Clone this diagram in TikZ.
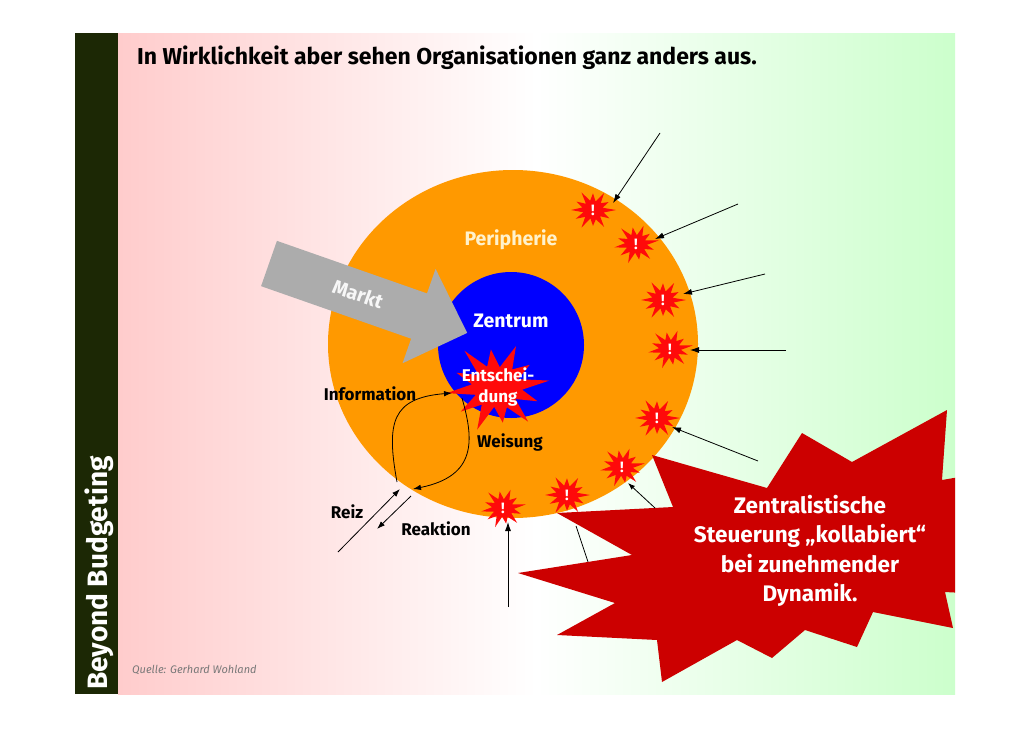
\documentclass[tikz,border=0pt]{standalone}
\usepackage{fontspec}
\setmainfont{Fira Sans}
\usetikzlibrary{arrows.meta}
\definecolor{panelpink}{RGB}{255,204,204}
\definecolor{panelgreen}{RGB}{204,255,204}
\definecolor{darkbar}{RGB}{28,40,5}
\definecolor{perioranges}{RGB}{255,153,0}
\definecolor{zentblue}{RGB}{0,0,255}
\definecolor{burstred}{RGB}{255,10,10}
\definecolor{bigred}{RGB}{204,0,0}
\definecolor{arrowgray}{RGB}{172,172,172}
\definecolor{cream}{RGB}{255,242,204}
\definecolor{quellegray}{RGB}{120,120,120}
\begin{document}
\begin{tikzpicture}[x=1pt,y=-1pt,
  burst/.pic={
    \fill[burstred] (0:23) -- (15:11) -- (30:19) -- (45:10) -- (60:22) -- (75:11)
      -- (90:18) -- (105:10) -- (120:23) -- (135:11) -- (150:20) -- (165:10)
      -- (180:22) -- (195:11) -- (210:19) -- (225:10) -- (240:23) -- (255:11)
      -- (270:19) -- (285:10) -- (300:22) -- (315:11) -- (330:18) -- (345:10) -- cycle;
  },
  bang/.style={text=white, font=\bfseries\fontsize{15}{16}\selectfont, inner sep=0pt},
  lbl/.style={text=black, font=\bfseries\fontsize{17}{18}\selectfont, inner sep=0pt},
  inlbl/.style={font=\bfseries\fontsize{19.5}{20}\selectfont, inner sep=0pt},
  conn/.style={draw=black, line width=0.8pt, -{Latex[length=9pt,width=6pt]}},
  connplain/.style={draw=black, line width=0.8pt},
]
\useasboundingbox (0,0) rectangle (1030,728);
\fill[white] (0,0) rectangle (1030,728);
% panel
\shade[left color=panelpink, right color=panelgreen, middle color=white] (118,33) rectangle (955,694);
\fill[darkbar] (75,33) rectangle (118,694);
% circles
\fill[perioranges] (513,344) ellipse [x radius=185pt, y radius=174pt];
\fill[zentblue] (511,345) circle [radius=73pt];
% Markt arrow
\begin{scope}[shift={(269,263.5)}, rotate=-19.3]
  \fill[arrowgray] (0,24) -- (159,24) -- (159,50) -- (210,0) -- (159,-50) -- (159,-24) -- (0,-24) -- cycle;
\end{scope}
\node[rotate=-19.3, text=white!94!gray, inlbl] (markt) at (358,294) {Markt};
% big star
\begin{scope}
  \clip (118,33) rectangle (955,694);
  \fill[bigred] (557,513) -- (673,507) -- (652,455) -- (767,488) -- (802,433) -- (852,462)
    -- (947,410) -- (942,480) -- (1000,470) -- (1000,595) -- (945,592) -- (953,628)
    -- (873,612) -- (857,647) -- (805,630) -- (772,658) -- (737,640) -- (662,682)
    -- (657,640) -- (557,635) -- (615,603) -- (518,573) -- (632,555) -- cycle;
\end{scope}
% Entscheidung burst
\pic[xscale=2.3, yscale=2.0, rotate=8] at (497,387) {burst};
% small bursts
\pic[yscale=0.88] at (593,210) {burst};
\pic[yscale=0.88, rotate=10] at (636,244) {burst};
\pic[yscale=0.88] at (663,300) {burst};
\pic[yscale=0.88, rotate=10] at (670,349) {burst};
\pic[yscale=0.88] at (657,418) {burst};
\pic[yscale=0.88, rotate=10] at (622,467) {burst};
\pic[yscale=0.88] at (567,495) {burst};
\pic[yscale=0.88, rotate=10] at (503,508) {burst};
\node[bang] (b1) at (593,210) {!};
\node[bang] (b2) at (636,244) {!};
\node[bang] (b3) at (663,300) {!};
\node[bang] (b4) at (670,349) {!};
\node[bang] (b5) at (657,418) {!};
\node[bang] (b6) at (622,467) {!};
\node[bang] (b7) at (567,495) {!};
\node[bang] (b8) at (503,508) {!};
% arrow end points
\coordinate (s1) at (660,133); \coordinate (e1) at (613,203);
\coordinate (s2) at (738,204); \coordinate (e2) at (655,239);
\coordinate (s3) at (765,274); \coordinate (e3) at (683,294);
\coordinate (s4) at (786,350); \coordinate (e4) at (690,350);
\coordinate (s5) at (758,461); \coordinate (e5) at (672,427);
\coordinate (s6) at (655,508); \coordinate (e6) at (628,483);
\coordinate (s7) at (588,562); \coordinate (e7) at (576,526);
\coordinate (s8) at (508,607); \coordinate (e8) at (508,522);
\draw[conn] (s1) -- (e1);
\draw[conn] (s2) -- (e2);
\draw[conn] (s3) -- (e3);
\draw[conn] (s4) -- (e4);
\draw[conn] (s5) -- (e5);
\draw[conn, -{Latex[length=7pt,width=5pt]}] (s6) -- (e6);
\draw[connplain] (s7) -- (e7);
\draw[conn] (s8) -- (e8);
% Reiz / Reaktion / Information / Weisung
\coordinate (reizS) at (338,552); \coordinate (reizE) at (400,489);
\coordinate (reakS) at (411,496); \coordinate (reakE) at (377,529);
\coordinate (infS) at (397,482); \coordinate (infE) at (452,393);
\coordinate (weiS) at (462,398); \coordinate (weiE) at (413,489);
\draw[conn, -{Latex[length=8pt,width=5.5pt]}] (reizS) -- (reizE);
\draw[conn, -{Latex[length=8pt,width=5.5pt]}] (reakS) -- (reakE);
\draw[conn, -{Latex[length=8pt,width=5.5pt]}] (infS) .. controls (386,422) and (392,398) .. (infE);
\draw[conn, -{Latex[length=8pt,width=5.5pt]}] (weiS) .. controls (474,440) and (477,476) .. (weiE);
% labels
\node[inlbl, text=cream] (peri) at (511,240) {Peripherie};
\node[inlbl, text=white] (zent) at (511,321) {Zentrum};
\node[align=center, text=white, font=\bfseries\fontsize{17}{21}\selectfont, inner sep=0pt] (ent) at (498,387) {Entschei-\\dung};
\node[lbl] (info) at (370,394) {Information};
\node[lbl] (weis) at (510,442) {Weisung};
\node[lbl] (reiz) at (347,512) {Reiz};
\node[lbl] (reak) at (436,529) {Reaktion};
\node[align=center, text=white, font=\bfseries\fontsize{22.5}{29.5}\selectfont, inner sep=0pt] (steu) at (810,551) {Zentralistische\\Steuerung „kollabiert“\\bei zunehmender\\Dynamik.};
% title and side text
\node[anchor=west, inner sep=0pt, font=\bfseries\fontsize{23}{24}\selectfont] (title) at (137,58) {In Wirklichkeit aber sehen Organisationen ganz anders aus.};
\node[rotate=90, anchor=west, inner sep=0pt, text=white, font=\bfseries\fontsize{28}{30}\selectfont] (bb) at (99,690) {Beyond Budgeting};
\node[anchor=west, inner sep=0pt, text=quellegray, font=\itshape\fontsize{11}{12}\selectfont] (quelle) at (132,670) {Quelle: Gerhard Wohland};
\end{tikzpicture}
\end{document}
